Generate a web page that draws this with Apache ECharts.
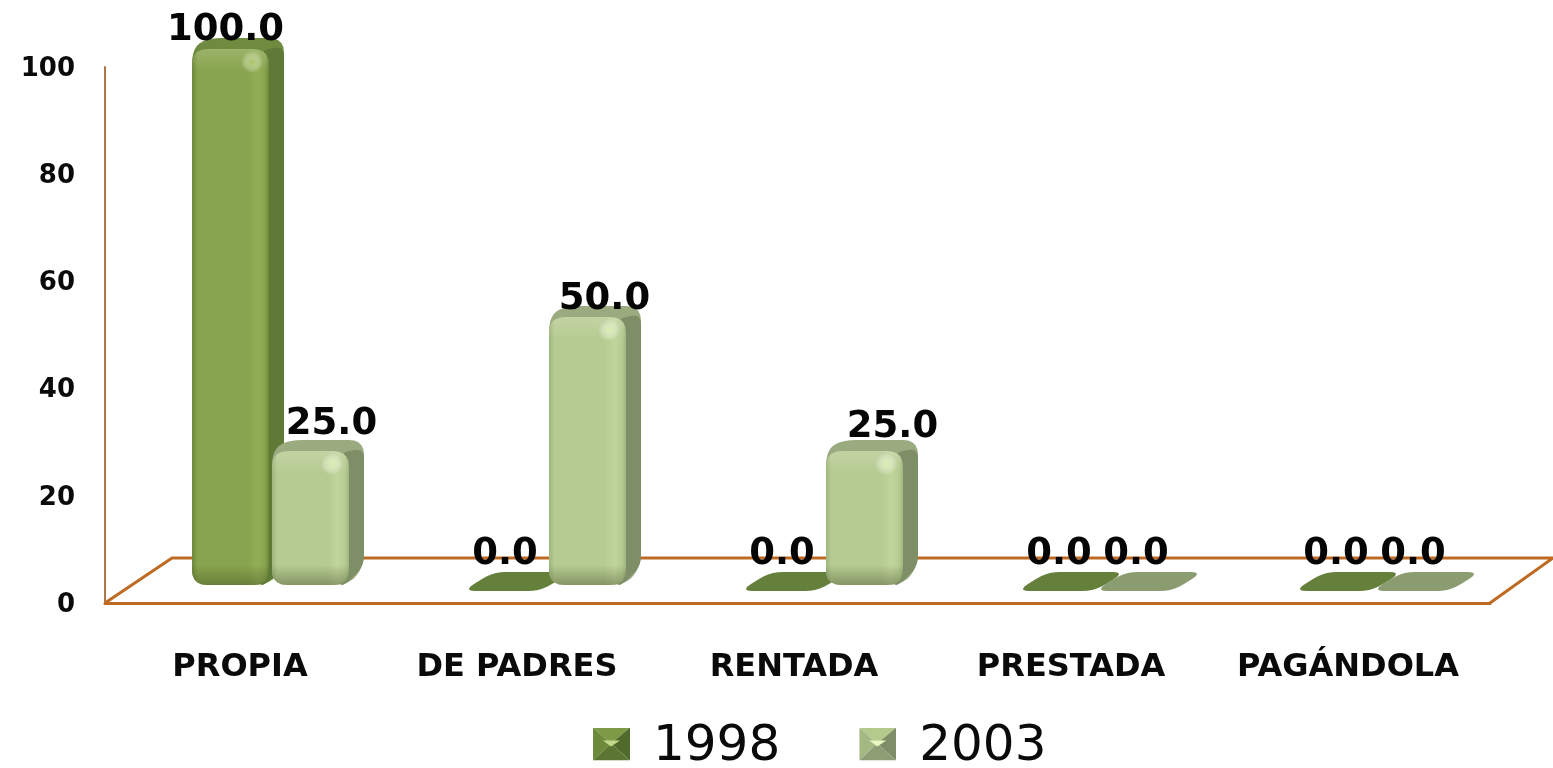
<!DOCTYPE html>
<html>
<head>
<meta charset="utf-8">
<title>Vivienda 1998 - 2003</title>
<script src="https://cdn.jsdelivr.net/npm/echarts@6/dist/echarts.min.js"></script>
<style>
  html, body { margin: 0; padding: 0; background: #fff; }
  #chart { width: 1553px; height: 768px; }
</style>
</head>
<body>
<div id="chart"></div>
<script>
// datos
const categories = ['PROPIA', 'DE PADRES', 'RENTADA', 'PRESTADA', 'PAGÁNDOLA']
const values1998 = [100, 0, 0, 0, 0]
const values2003 = [25, 50, 25, 0, 0]
const yTicks = [0, 20, 40, 60, 80, 100]

// ajuste a mano de las etiquetas, [dx, dy] respecto a la barra
const nudge1998 = [[-5, -8], [0, 0], [0, 0], [0, 0], [0, 0]]
const nudge2003 = [[21, -16], [17, -7], [28, -13], [0, 0], [0, 0]]

const palette = {
  1998: {
    edge: '#6c8739', base: '#88a44e', light: '#92ae55', side: '#5f7a36', top: '#6f8b3f',
    glow: '#a8c462', flat: '#65803a', flatZ: 2, boxZ: 5,
  },
  2003: {
    edge: '#9fb57f', base: '#b6cb92', light: '#c0d59b', side: '#7e8f67', top: '#9aab7f',
    glow: '#d9ecaa', flat: '#8a9c70', flatZ: 1, boxZ: 10,
  },
}

const depthX = 15
const depthY = 11
const barOffset = { 1998: -48, 2003: 32 }
const barWidth = 77

// esquinas redondeadas como puntos de poligono
function roundPoly(pts, r) {
  const out = []
  const n = pts.length
  for (let i = 0; i < n; i++) {
    const p = pts[i]
    const a = pts[(i + n - 1) % n]
    const b = pts[(i + 1) % n]
    const la = Math.hypot(a[0] - p[0], a[1] - p[1])
    const lb = Math.hypot(b[0] - p[0], b[1] - p[1])
    const ra = Math.min(r, la / 2)
    const rb = Math.min(r, lb / 2)
    const s = [p[0] + ((a[0] - p[0]) * ra) / la, p[1] + ((a[1] - p[1]) * ra) / la]
    const e = [p[0] + ((b[0] - p[0]) * rb) / lb, p[1] + ((b[1] - p[1]) * rb) / lb]
    for (let t = 0; t <= 1.001; t += 0.2) {
      const u = 1 - t
      out.push([
        u * u * s[0] + 2 * u * t * p[0] + t * t * e[0],
        u * u * s[1] + 2 * u * t * p[1] + t * t * e[1],
      ])
    }
  }
  return out
}

function linear(horizontal, stops) {
  return {
    type: 'linear',
    x: 0,
    y: 0,
    x2: horizontal ? 1 : 0,
    y2: horizontal ? 0 : 1,
    colorStops: stops.map(([offset, color]) => ({ offset, color })),
  }
}

function labelEl(text, x, y) {
  return {
    type: 'text',
    z2: 20,
    style: {
      text,
      x,
      y,
      align: 'center',
      verticalAlign: 'middle',
      fill: '#050505',
      font: 'bold 37px "DejaVu Sans"',
    },
  }
}

function makeRender(year, nudges) {
  const c = palette[year]
  return function (params, api) {
    const i = api.value(0)
    const v = api.value(1)
    const base = api.coord([i, 0])
    const head = api.coord([i, v])
    const nudge = nudges[i]
    const text = v.toFixed(1)

    if (v === 0) {
      // valor cero: solo la base plana
      const l = base[0] + barOffset[year] - (year === 1998 ? 0 : 2)
      const shape = roundPoly(
        [[l - 6, base[1] + 6], [l + 24, base[1] - 13], [l + 102, base[1] - 13], [l + 72, base[1] + 6]],
        13
      )
      return {
        type: 'group',
        children: [
          { type: 'polygon', z2: c.flatZ, shape: { points: shape }, style: { fill: c.flat } },
          labelEl(text, base[0] + (year === 1998 ? -12 : 65), base[1] - 31),
        ],
      }
    }

    const x0 = base[0] + barOffset[year]
    const x1 = x0 + barWidth
    const yT = head[1]
    const yB = base[1]
    const h = yB - yT
    const z = c.boxZ
    const bx0 = x0 + depthX
    const bx1 = x1 + depthX
    const byT = yT - depthY
    const byB = yB - depthY - 8

    const hull = roundPoly(
      [[x0, yT], [bx0, byT], [bx1, byT], [bx1, byB], [x1, yB], [x0, yB]],
      15
    )
    const side = roundPoly([[x1 - 10, yT + 2], [bx1, byT + 8], [bx1, byB], [x1 - 4, yB], [x1 - 10, yB]], 10)
    const front = roundPoly([[x0, yT], [x1, yT], [x1, yB], [x0, yB]], 16)
    const band = Math.min(22 / h, 0.5)
    const foot = Math.min(20 / h, 0.4)

    return {
      type: 'group',
      children: [
        { type: 'polygon', z2: z, shape: { points: hull }, style: { fill: c.top } },
        { type: 'polygon', z2: z, shape: { points: side }, style: { fill: c.side } },
        {
          type: 'polygon',
          z2: z,
          shape: { points: front },
          style: {
            fill: linear(true, [
              [0, c.edge], [0.07, c.base], [0.72, c.base], [0.85, c.light], [0.95, c.base], [1, c.edge],
            ]),
          },
        },
        {
          type: 'polygon',
          z2: z,
          shape: { points: front },
          style: {
            fill: linear(false, [
              [0, 'rgba(255,255,255,0.16)'],
              [band, 'rgba(255,255,255,0)'],
              [1 - foot, 'rgba(60,70,30,0)'],
              [1, 'rgba(60,70,30,0.4)'],
            ]),
          },
        },
        {
          type: 'circle',
          z2: z,
          shape: { cx: x1 - 17, cy: yT + 13, r: 11 },
          style: {
            fill: {
              type: 'radial',
              x: 0.5,
              y: 0.5,
              r: 0.5,
              colorStops: [
                { offset: 0, color: c.glow },
                { offset: 1, color: 'rgba(255,255,255,0)' },
              ],
            },
          },
        },
        labelEl(text, (x0 + x1) / 2 + nudge[0], byT + nudge[1]),
      ],
    }
  }
}

function pyramidIcon(top, left, right, bottom, centre) {
  const svg =
    '<svg xmlns="http://www.w3.org/2000/svg" width="37" height="33">' +
    `<polygon points="0,0 37,0 18,16" fill="${top}"/>` +
    `<polygon points="0,0 18,16 0,33" fill="${left}"/>` +
    `<polygon points="37,0 37,33 18,16" fill="${right}"/>` +
    `<polygon points="0,33 37,33 18,16" fill="${bottom}"/>` +
    `<polygon points="10,13 27,13 18,19" fill="${centre}"/></svg>`
  return 'image://data:image/svg+xml,' + encodeURIComponent(svg)
}

const chart = echarts.init(document.getElementById('chart'))

chart.setOption({
  animation: false,
  backgroundColor: '#ffffff',
  grid: [
    // ejes visibles
    { left: 105, right: 63, top: 67, bottom: 165 },
    // escala de las barras, sobre el piso
    { left: 101.5, right: 66.5, top: 49, bottom: 183 },
  ],
  legend: {
    left: 588,
    top: 717,
    itemWidth: 37,
    itemHeight: 33,
    itemGap: 79,
    selectedMode: false,
    formatter: '{t|{name}}',
    textStyle: {
      color: '#0a0a0a',
      fontFamily: 'DejaVu Sans',
      fontSize: 50,
      rich: {
        t: {
          color: '#0a0a0a',
          fontFamily: 'DejaVu Sans',
          fontSize: 50,
          padding: [6, 0, 0, 18],
        },
      },
    },
    data: [
      { name: '1998', icon: pyramidIcon('#7d9a45', '#6d8a3a', '#4f6a2a', '#5b7632', '#c2d98a') },
      { name: '2003', icon: pyramidIcon('#b4c98c', '#a3b882', '#7e8f67', '#8d9e74', '#e8f7c0') },
    ],
  },
  xAxis: [
    {
      gridIndex: 0,
      type: 'category',
      data: categories,
      axisLine: { show: true, lineStyle: { color: '#bf6a22', width: 3 } },
      axisTick: { show: false },
      axisLabel: { show: false },
    },
    {
      gridIndex: 1,
      type: 'category',
      data: categories,
      axisLine: { show: false },
      axisTick: { show: false },
      axisLabel: {
        interval: 0,
        margin: 67,
        color: '#0a0a0a',
        fontFamily: 'DejaVu Sans',
        fontWeight: 'bold',
        fontSize: 32,
      },
    },
  ],
  yAxis: [
    {
      gridIndex: 0,
      type: 'value',
      min: yTicks[0],
      max: yTicks[yTicks.length - 1],
      interval: yTicks[1] - yTicks[0],
      axisLine: { show: true, lineStyle: { color: '#ad7748', width: 2 } },
      axisTick: { show: false },
      splitLine: { show: false },
      axisLabel: {
        margin: 30,
        formatter: '{n|{value}}',
        rich: {
          n: {
            color: '#0a0a0a',
            fontFamily: 'DejaVu Sans',
            fontWeight: 'bold',
            fontSize: 26,
            padding: [4, 0, 0, 0],
          },
        },
      },
    },
    {
      gridIndex: 1,
      type: 'value',
      min: 0,
      max: 100,
      show: false,
    },
  ],
  graphic: [
    {
      type: 'polyline',
      z: 0,
      shape: { points: [[105, 603], [172, 558], [1553, 558], [1490, 603]] },
      style: { stroke: '#bf6a22', lineWidth: 3, fill: null },
    },
  ],
  series: [
    {
      name: '1998',
      type: 'custom',
      xAxisIndex: 1,
      yAxisIndex: 1,
      encode: { x: 0, y: 1 },
      clip: false,
      renderItem: makeRender(1998, nudge1998),
      data: values1998.map((v, i) => [i, v]),
    },
    {
      name: '2003',
      type: 'custom',
      xAxisIndex: 1,
      yAxisIndex: 1,
      encode: { x: 0, y: 1 },
      clip: false,
      renderItem: makeRender(2003, nudge2003),
      data: values2003.map((v, i) => [i, v]),
    },
  ],
})
</script>
</body>
</html>
